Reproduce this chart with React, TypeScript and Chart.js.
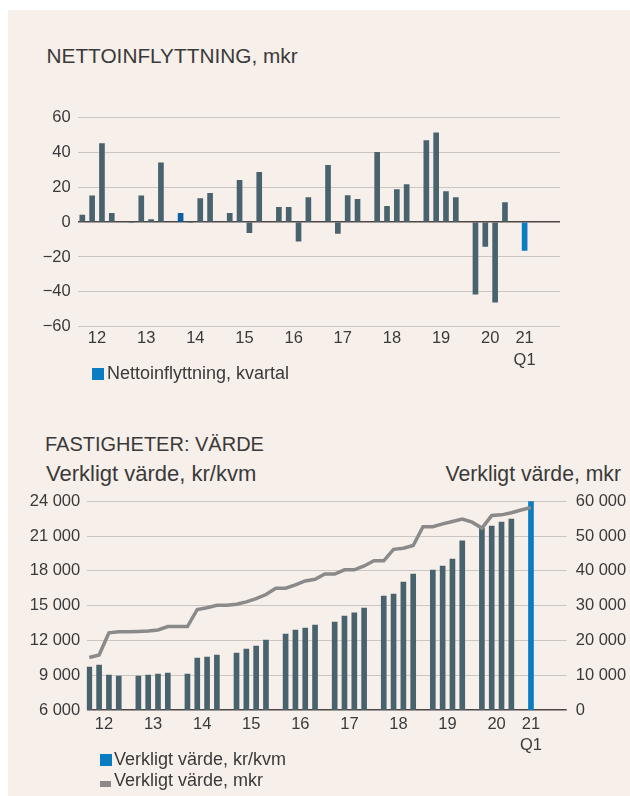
import React, { useEffect, useRef } from 'react';
import { Chart, registerables } from 'chart.js';

Chart.register(...registerables);

// ---- Data (one slot per quarter, plus an empty slot between years) ----
const slots: string[] = [
  '12 Q1', '12 Q2', '12 Q3', '12 Q4', '',
  '13 Q1', '13 Q2', '13 Q3', '13 Q4', '',
  '14 Q1', '14 Q2', '14 Q3', '14 Q4', '',
  '15 Q1', '15 Q2', '15 Q3', '15 Q4', '',
  '16 Q1', '16 Q2', '16 Q3', '16 Q4', '',
  '17 Q1', '17 Q2', '17 Q3', '17 Q4', '',
  '18 Q1', '18 Q2', '18 Q3', '18 Q4', '',
  '19 Q1', '19 Q2', '19 Q3', '19 Q4', '',
  '20 Q1', '20 Q2', '20 Q3', '20 Q4', '',
  '21 Q1',
];

// Nettoinflyttning, mkr (per quarter)
const nettoinflyttning: (number | null)[] = [
  4, 15, 45, 5, null,
  0, 15, 1.5, 34, null,
  5, 0, 13.5, 16.5, null,
  5, 24, -6, 28.5, null,
  8.5, 8.5, -11, 14, null,
  32.5, -6.5, 15.2, 13, null,
  40, 9, 18.7, 21.5, null,
  46.7, 51.2, 17.5, 14.1, null,
  -41.3, -13.9, -45.9, 11.2, null,
  -16.2,
];

// Verkligt värde, kr/kvm
const verkligtVardeKvm: (number | null)[] = [
  9700, 9880, 9020, 8930, null,
  8930, 9020, 9105, 9190, null,
  9105, 10485, 10570, 10745, null,
  10920, 11260, 11520, 12040, null,
  12555, 12900, 13075, 13330, null,
  13590, 14110, 14370, 14800, null,
  15835, 16005, 17040, 17730, null,
  18075, 18420, 19025, 20580, null,
  21700, 21870, 22215, 22475, null,
  24115,
];

// Verkligt värde, mkr
const verkligtVardeMkr: number[] = [
  15100, 15800, 22200, 22500, 22500,
  22600, 22700, 23000, 24000, 24000,
  24000, 28900, 29400, 30100, 30100,
  30400, 31100, 32000, 33200, 35000,
  35000, 36000, 37100, 37600, 39100,
  39100, 40300, 40300, 41400, 42900,
  42900, 46200, 46500, 47300, 52700,
  52700, 53500, 54200, 54900, 54000,
  52300, 55900, 56100, 56700, 57500,
  58200,
];

const yearKeys = ['12', '13', '14', '15', '16', '17', '18', '19', '20', '21'];
const yearTickLabels: (string | string[])[] = ['12', '13', '14', '15', '16', '17', '18', '19', '20', ['21', 'Q1']];
const topTicks = [-60, -40, -20, 0, 20, 40, 60];
const leftTicks = [6000, 9000, 12000, 15000, 18000, 21000, 24000];
const rightTicks = [0, 10000, 20000, 30000, 40000, 50000, 60000];

// ---- Styles ----
const FONT = "'Liberation Sans', Arial, Helvetica, sans-serif";
const TEXT = '#3a3a3a';
const SLATE = '#49636e';
const BLUE = '#0a7cc2';
const BLUE_DARK = '#0b5fa8';
const GRID = '#cac6c2';
const AXIS_DARK = '#4e4646';
const LINE_GRAY = '#8a8a8a';
const BG = '#f7efe9';

const yearTicks = yearKeys.map((y) => {
  const idx = slots.map((s, i) => (s.startsWith(y + ' ') ? i : -1)).filter((i) => i >= 0);
  return idx.reduce((a, b) => a + b, 0) / idx.length;
});

const signed = (v: number) => (v < 0 ? '\u2212' + Math.abs(v) : String(v));
const thousands = (v: number) => String(v).replace(/\B(?=(\d{3})+(?!\d))/g, ' ');

const makeBarColor = (darkSlot: string | null) => (ctx: any) => {
  const raw = ctx.raw as { x: number } | undefined;
  if (!raw) return SLATE;
  const lbl = slots[raw.x];
  if (lbl === '21 Q1') return BLUE;
  if (darkSlot && lbl === darkSlot) return BLUE_DARK;
  return SLATE;
};

const toPoints = (arr: (number | null)[]) =>
  arr.map((v, i) => (v == null ? null : { x: i, y: v })).filter((p) => p !== null) as { x: number; y: number }[];

function xAxis(min: number, max: number, height: number, padding: number) {
  return {
    type: 'linear' as const,
    min,
    max,
    offset: false,
    grid: { display: false, drawTicks: false, offset: false },
    border: { display: false },
    afterBuildTicks: (scale: any) => {
      scale.ticks = yearTicks.map((v) => ({ value: v }));
    },
    afterFit: (scale: any) => {
      scale.height = height;
    },
    ticks: {
      autoSkip: false,
      maxRotation: 0,
      minRotation: 0,
      padding,
      color: TEXT,
      font: { family: FONT, size: 16.5, lineHeight: 1.3 },
      callback: (_v: any, index: number) => yearTickLabels[index],
    },
  };
}

function TopChart() {
  const ref = useRef<HTMLCanvasElement>(null);
  useEffect(() => {
    if (!ref.current) return;
    const chart = new Chart(ref.current, {
      type: 'bar',
      data: {
        datasets: [
          {
            label: 'Nettoinflyttning, kvartal',
            data: toPoints(nettoinflyttning),
            backgroundColor: makeBarColor('14 Q1'),
            barThickness: 5,
            borderWidth: 0,
          },
        ],
      },
      options: {
        animation: false,
        responsive: false,
        maintainAspectRatio: false,
        layout: { padding: { top: 16.7, right: 70, left: 0, bottom: 0 } },
        plugins: { legend: { display: false }, tooltip: { enabled: false } },
        scales: {
          x: xAxis(-0.407, 48.6, 53.3, 1.2) as any,
          y: {
            min: -60,
            max: 60,
            beginAtZero: false,
            afterBuildTicks: (scale: any) => {
              scale.ticks = topTicks.map((v) => ({ value: v }));
            },
            afterFit: (scale: any) => {
              scale.width = 70.3;
            },
            grid: {
              drawTicks: false,
              color: (c: any) => (c.tick && c.tick.value === 0 ? AXIS_DARK : GRID),
              lineWidth: (c: any) => (c.tick && c.tick.value === 0 ? 1.6 : 1),
            },
            border: { display: false },
            ticks: {
              padding: 7.6,
              color: TEXT,
              font: { family: FONT, size: 16.5 },
              callback: (v: any) => signed(Number(v)),
            },
          },
        },
      },
    });
    return () => chart.destroy();
  }, []);
  return <canvas ref={ref} width={622} height={280} style={{ position: 'absolute', left: 0, top: 90, width: 622, height: 280 }} />;
}

function BottomChart() {
  const ref = useRef<HTMLCanvasElement>(null);
  useEffect(() => {
    if (!ref.current) return;
    const chart = new Chart(ref.current, {
      type: 'bar',
      data: {
        datasets: [
          {
            type: 'line',
            label: 'Verkligt värde, mkr',
            data: verkligtVardeMkr.map((v, i) => ({ x: i, y: v })),
            yAxisID: 'y2',
            borderColor: LINE_GRAY,
            borderWidth: 3.5,
            pointRadius: 0,
            tension: 0,
            fill: false,
            order: 0,
          } as any,
          {
            type: 'bar',
            label: 'Verkligt värde, kr/kvm',
            data: toPoints(verkligtVardeKvm),
            yAxisID: 'y',
            backgroundColor: makeBarColor(null),
            barThickness: 5,
            borderWidth: 0,
            order: 1,
          },
        ],
      },
      options: {
        animation: false,
        responsive: false,
        maintainAspectRatio: false,
        layout: { padding: { top: 21.3, right: 0, left: 0, bottom: 0 } },
        plugins: { legend: { display: false }, tooltip: { enabled: false } },
        scales: {
          x: xAxis(-0.265, 48.64, 66, 3.3) as any,
          y: {
            position: 'left',
            min: 6000,
            max: 24000,
            beginAtZero: false,
            afterBuildTicks: (scale: any) => {
              scale.ticks = leftTicks.map((v) => ({ value: v }));
            },
            afterFit: (scale: any) => {
              scale.width = 78.7;
            },
            grid: {
              drawTicks: false,
              color: (c: any) => (c.tick && c.tick.value === 6000 ? AXIS_DARK : GRID),
              lineWidth: (c: any) => (c.tick && c.tick.value === 6000 ? 1.6 : 1),
            },
            border: { display: false },
            ticks: {
              padding: 6.5,
              color: TEXT,
              font: { family: FONT, size: 16.5 },
              callback: (v: any) => thousands(Number(v)),
            },
          },
          y2: {
            position: 'right',
            min: 0,
            max: 60000,
            beginAtZero: false,
            afterBuildTicks: (scale: any) => {
              scale.ticks = rightTicks.map((v) => ({ value: v }));
            },
            afterFit: (scale: any) => {
              scale.width = 63.3;
            },
            grid: { display: false, drawTicks: false },
            border: { display: false },
            ticks: {
              padding: 9,
              color: TEXT,
              font: { family: FONT, size: 16.5 },
              callback: (v: any) => thousands(Number(v)),
            },
          },
        },
      },
    });
    return () => chart.destroy();
  }, []);
  return <canvas ref={ref} width={622} height={296} style={{ position: 'absolute', left: 0, top: 470, width: 622, height: 296 }} />;
}

const textBase: React.CSSProperties = {
  position: 'absolute',
  fontFamily: FONT,
  color: TEXT,
  whiteSpace: 'nowrap',
};

export default function App() {
  return (
    <div
      style={{
        position: 'absolute',
        left: 8,
        top: 10,
        width: 622,
        height: 786,
        background: BG,
        overflow: 'hidden',
      }}
    >
      <div style={{ ...textBase, left: 38.5, top: 36.4, fontSize: 20.8, lineHeight: '20.8px' }}>NETTOINFLYTTNING, mkr</div>
      <TopChart />
      <div style={{ ...textBase, left: 84, top: 357.5, width: 12, height: 12, background: BLUE }} />
      <div style={{ ...textBase, left: 99, top: 354.1, fontSize: 18, lineHeight: '18px' }}>Nettoinflyttning, kvartal</div>

      <div style={{ ...textBase, left: 37, top: 424.1, fontSize: 20, lineHeight: '20px' }}>FASTIGHETER: VÄRDE</div>
      <div style={{ ...textBase, left: 38, top: 452.6, fontSize: 22, lineHeight: '22px' }}>Verkligt värde, kr/kvm</div>
      <div style={{ ...textBase, right: 9, top: 452.9, fontSize: 21.2, lineHeight: '21.2px' }}>Verkligt värde, mkr</div>
      <BottomChart />
      <div style={{ ...textBase, left: 92, top: 743.6, width: 12, height: 12, background: BLUE }} />
      <div style={{ ...textBase, left: 106, top: 740.2, fontSize: 18, lineHeight: '18px' }}>Verkligt värde, kr/kvm</div>
      <div style={{ ...textBase, left: 92, top: 771.4, width: 11, height: 5.5, background: LINE_GRAY }} />
      <div style={{ ...textBase, left: 106, top: 760.5, fontSize: 18, lineHeight: '18px' }}>Verkligt värde, mkr</div>
    </div>
  );
}
